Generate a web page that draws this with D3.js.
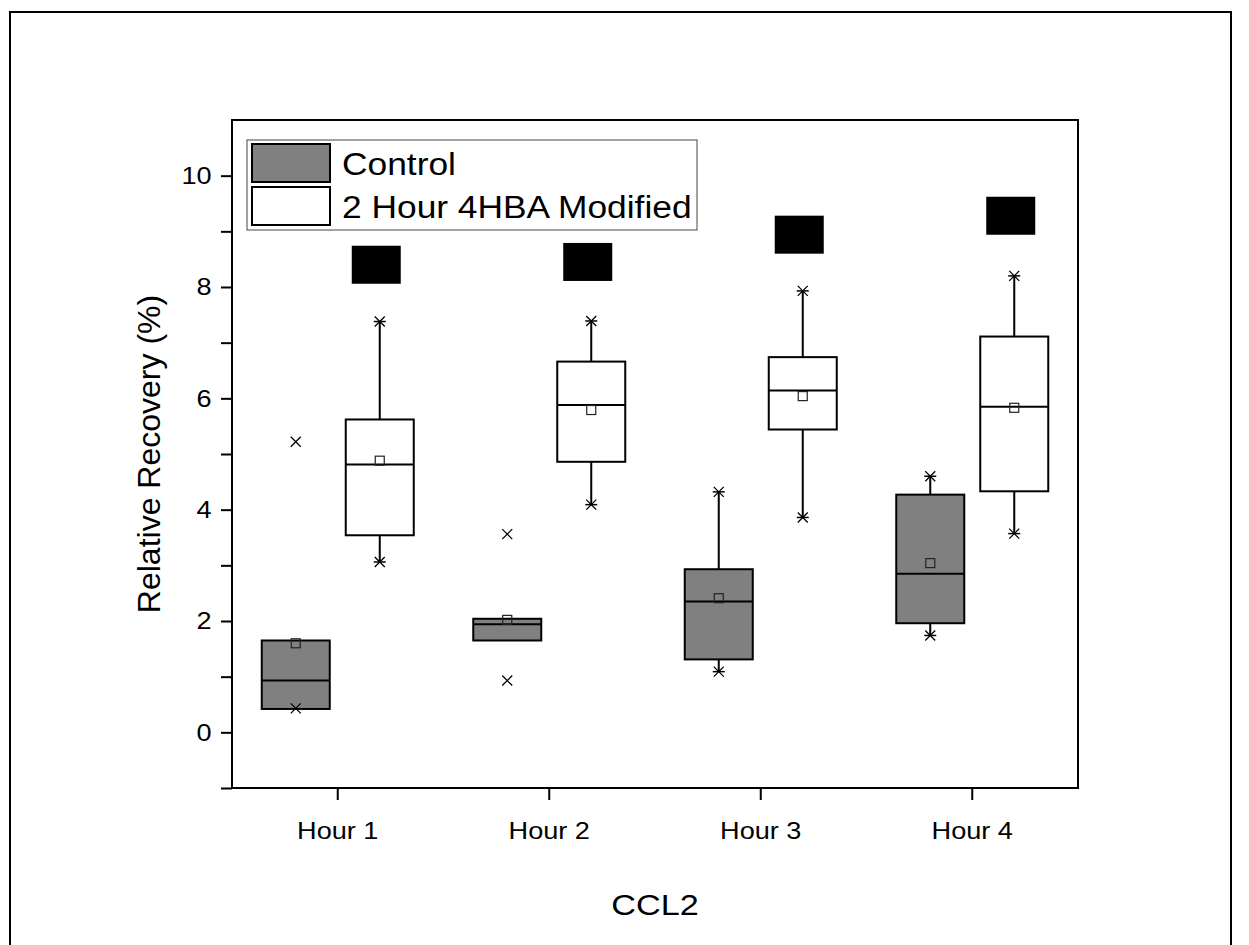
<!DOCTYPE html>
<html lang="en">
<head>
    <meta charset="UTF-8">
    <title>CCL2 relative recovery</title>
    <script src="https://d3js.org/d3.v7.min.js"></script>
    <style>
        body { margin: 0; background: #fff; }
        text { font-family: Arial, "Liberation Sans", sans-serif; fill: #000; }
    </style>
</head>
<body>
</body>

<script>
    // data
    var hours = ["Hour 1", "Hour 2", "Hour 3", "Hour 4"];
    var series = ["Control", "2 Hour 4HBA Modified"];

    var controlQ1 = [0.42, 1.65, 1.31, 1.96];
    var controlMedian = [0.93, 1.94, 2.35, 2.85];
    var controlQ3 = [1.65, 2.04, 2.93, 4.27];
    var controlMean = [1.60, 2.02, 2.41, 3.04];
    var controlMin = [0.43, 0.93, 1.09, 1.74];
    var controlMax = [5.22, 3.56, 4.32, 4.60];
    var controlWhisker = [false, false, true, true];

    var modQ1 = [3.54, 4.86, 5.44, 4.33];
    var modMedian = [4.81, 5.88, 6.14, 5.85];
    var modQ3 = [5.62, 6.66, 6.74, 7.11];
    var modMean = [4.88, 5.79, 6.04, 5.83];
    var modMin = [3.06, 4.09, 3.86, 3.57];
    var modMax = [7.38, 7.39, 7.93, 8.20];
    var modWhisker = [true, true, true, true];

    // black significance blocks above the modified boxes
    var sigLevel = [8.40, 8.45, 8.94, 9.28];

    var yTicks = [0, 2, 4, 6, 8, 10];
    var yMinorTicks = [-1, 1, 3, 5, 7, 9];

    var width = 1249;
    var height = 945;
    var margin = {left: 232, right: 171, top: 120, bottom: 157};
    var boxW = 68;
    var fills = ["#808080", "#ffffff"];
    var stretch = "scale(1.13,1)"; // the original text is a bit wider than Arial

    var svg = d3.select("body").append("svg")
        .attr("width", width)
        .attr("height", height);

    svg.append("rect")
        .attr("width", width).attr("height", height)
        .attr("fill", "#fff");

    // outer page frame
    svg.append("rect")
        .attr("x", 10).attr("y", 12)
        .attr("width", 1221).attr("height", 960)
        .attr("fill", "none")
        .attr("stroke", "#000")
        .attr("stroke-width", 2);

    var x = d3.scaleBand()
        .domain(hours)
        .range([margin.left, width - margin.right]);

    var xSub = d3.scalePoint()
        .domain(series)
        .range([-42, 42]);

    var y = d3.scaleLinear()
        .domain([-1, 11])
        .range([height - margin.bottom, margin.top]);

    function cx(h, s) {
        return x(h) + x.bandwidth() / 2 + xSub(s);
    }

    var boxes = [];
    hours.forEach(function (h, i) {
        boxes.push({hour: h, s: series[0], q1: controlQ1[i], med: controlMedian[i], q3: controlQ3[i],
            mean: controlMean[i], lo: controlMin[i], hi: controlMax[i], whisker: controlWhisker[i], fill: fills[0]});
        boxes.push({hour: h, s: series[1], q1: modQ1[i], med: modMedian[i], q3: modQ3[i],
            mean: modMean[i], lo: modMin[i], hi: modMax[i], whisker: modWhisker[i], fill: fills[1]});
    });

    var g = svg.append("g");

    // whiskers
    g.selectAll("path.whisker")
        .data(boxes.filter(function (d) { return d.whisker; }))
        .enter().append("path")
        .attr("class", "whisker")
        .attr("d", function (d) {
            var c = cx(d.hour, d.s);
            return "M" + c + "," + y(d.hi) + "V" + y(d.q3) + "M" + c + "," + y(d.q1) + "V" + y(d.lo);
        })
        .attr("stroke", "#000")
        .attr("stroke-width", 2)
        .attr("fill", "none");

    // boxes
    g.selectAll("rect.box")
        .data(boxes)
        .enter().append("rect")
        .attr("class", "box")
        .attr("x", function (d) { return cx(d.hour, d.s) - boxW / 2; })
        .attr("y", function (d) { return y(d.q3); })
        .attr("width", boxW)
        .attr("height", function (d) { return y(d.q1) - y(d.q3); })
        .attr("fill", function (d) { return d.fill; })
        .attr("stroke", "#000")
        .attr("stroke-width", 2);

    // medians
    g.selectAll("line.median")
        .data(boxes)
        .enter().append("line")
        .attr("x1", function (d) { return cx(d.hour, d.s) - boxW / 2; })
        .attr("x2", function (d) { return cx(d.hour, d.s) + boxW / 2; })
        .attr("y1", function (d) { return y(d.med); })
        .attr("y2", function (d) { return y(d.med); })
        .attr("stroke", "#000")
        .attr("stroke-width", 2);

    // mean squares
    g.selectAll("rect.mean")
        .data(boxes)
        .enter().append("rect")
        .attr("x", function (d) { return cx(d.hour, d.s) - 4.5; })
        .attr("y", function (d) { return y(d.mean) - 4.5; })
        .attr("width", 9).attr("height", 9)
        .attr("fill", "none")
        .attr("stroke", "#222")
        .attr("stroke-width", 1.2);

    // min / max markers
    var marks = [];
    boxes.forEach(function (d) {
        marks.push({c: cx(d.hour, d.s), v: d.lo, dash: d.whisker});
        marks.push({c: cx(d.hour, d.s), v: d.hi, dash: d.whisker});
    });
    var mk = g.selectAll("g.mark")
        .data(marks)
        .enter().append("g")
        .attr("transform", function (d) { return "translate(" + d.c + "," + y(d.v) + ")"; });
    mk.append("path")
        .attr("d", "M-5,-5L5,5M-5,5L5,-5")
        .attr("stroke", "#000")
        .attr("stroke-width", 1.3);
    mk.filter(function (d) { return d.dash; })
        .append("line")
        .attr("x1", -6).attr("x2", 6)
        .attr("stroke", "#000")
        .attr("stroke-width", 1.5);

    // significance blocks
    g.selectAll("rect.sig")
        .data(sigLevel)
        .enter().append("rect")
        .attr("x", function (d, i) { return cx(hours[i], series[1]) - 28; })
        .attr("y", function (d) { return y(d) - 19; })
        .attr("width", 49)
        .attr("height", 38)
        .attr("fill", "#000");

    // plot frame
    svg.append("rect")
        .attr("x", margin.left).attr("y", margin.top)
        .attr("width", width - margin.left - margin.right)
        .attr("height", height - margin.top - margin.bottom)
        .attr("fill", "none")
        .attr("stroke", "#000")
        .attr("stroke-width", 2);

    // y axis
    var yAxis = svg.append("g")
        .attr("transform", "translate(" + margin.left + ",0)")
        .call(d3.axisLeft(y).tickValues(yTicks).tickSize(11).tickPadding(7).tickFormat(d3.format("d")));
    yAxis.select(".domain").remove();
    yAxis.selectAll("line").attr("stroke-width", 2);
    yAxis.selectAll("text")
        .attr("transform", stretch)
        .style("font-size", "24px")
        .style("font-family", "Arial, 'Liberation Sans', sans-serif");

    var yMinor = svg.append("g")
        .attr("transform", "translate(" + margin.left + ",0)")
        .call(d3.axisLeft(y).tickValues(yMinorTicks).tickSize(11).tickFormat(""));
    yMinor.select(".domain").remove();
    yMinor.selectAll("line").attr("stroke-width", 2);

    // x axis
    var xAxis = svg.append("g")
        .attr("transform", "translate(0," + (height - margin.bottom) + ")")
        .call(d3.axisBottom(x).tickSize(12).tickPadding(22));
    xAxis.select(".domain").remove();
    xAxis.selectAll("line").attr("stroke-width", 2);
    xAxis.selectAll("text")
        .attr("transform", stretch)
        .style("font-size", "24px")
        .style("font-family", "Arial, 'Liberation Sans', sans-serif");

    // axis titles
    svg.append("text")
        .attr("transform", "translate(" + ((margin.left + width - margin.right) / 2) + ",915) scale(1.14,1)")
        .attr("text-anchor", "middle")
        .style("font-size", "30px")
        .text("CCL2");

    svg.append("text")
        .attr("transform", "translate(160," + (margin.top + (height - margin.top - margin.bottom) / 2) + ") rotate(-90)")
        .attr("text-anchor", "middle")
        .style("font-size", "32px")
        .text("Relative Recovery (%)");

    // legend
    var legend = svg.append("g").attr("transform", "translate(247,140)");
    legend.append("rect")
        .attr("width", 450).attr("height", 90)
        .attr("fill", "#fff")
        .attr("stroke", "#444")
        .attr("stroke-width", 1);
    var item = legend.selectAll("g.item")
        .data(series)
        .enter().append("g")
        .attr("transform", function (d, i) { return "translate(5," + (4 + i * 43) + ")"; });
    item.append("rect")
        .attr("width", 78).attr("height", 38)
        .attr("fill", function (d, i) { return fills[i]; })
        .attr("stroke", "#000")
        .attr("stroke-width", 2);
    item.append("text")
        .attr("transform", "translate(90,31) scale(1.14,1)")
        .style("font-size", "31px")
        .text(function (d) { return d; });
</script>
</html>
